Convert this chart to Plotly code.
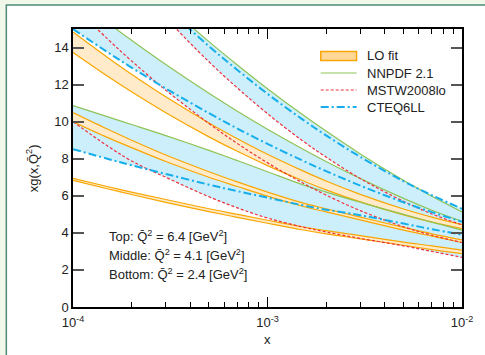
import plotly.graph_objects as go

# ---------------- data ----------------
x = [1e-4, 1.5e-4, 2e-4, 3e-4, 5e-4, 7e-4, 1e-3, 1.5e-3, 2e-3, 3e-3, 5e-3, 7e-3, 1e-2]

# LO fit bands (upper / lower edge) for the three Q^2 values
lo_top_up = [14.84, 13.48, 12.56, 11.34, 9.93, 9.08, 8.24, 7.37, 6.80, 6.08, 5.29, 4.85, 4.44]
lo_top_lo = [13.73, 12.46, 11.61, 10.48, 9.18, 8.40, 7.63, 6.84, 6.32, 5.67, 4.97, 4.58, 4.23]
lo_mid_up = [10.49, 9.6, 9.0, 8.2, 7.3, 6.75, 6.2, 5.63, 5.3, 4.85, 4.3, 3.95, 3.62]
lo_mid_lo = [9.99, 9.15, 8.6, 7.85, 7.0, 6.5, 5.98, 5.45, 5.13, 4.7, 4.15, 3.82, 3.48]
lo_bot_up = [6.94, 6.5, 6.2, 5.8, 5.3, 5.0, 4.68, 4.33, 4.12, 3.85, 3.5, 3.3, 3.07]
lo_bot_lo = [6.83, 6.38, 6.07, 5.65, 5.15, 4.84, 4.52, 4.17, 3.95, 3.68, 3.33, 3.1, 2.88]

# NNPDF 2.1
nn_top = [21.18, 19.33, 18.06, 16.35, 14.32, 13.06, 11.78, 10.41, 9.49, 8.26, 6.84, 5.98, 5.13]
nn_mid = [16.79, 15.36, 14.39, 13.08, 11.53, 10.56, 9.59, 8.55, 7.85, 6.93, 5.86, 5.22, 4.62]
nn_bot = [10.87, 10.27, 9.85, 9.25, 8.45, 7.9, 7.3, 6.62, 6.2, 5.65, 5.0, 4.58, 4.15]

# MSTW2008lo
ms_top = [21.53, 19.21, 17.65, 15.60, 13.23, 11.82, 10.43, 9.00, 8.09, 6.93, 5.70, 5.02, 4.43]
ms_mid = [16.28, 14.48, 13.28, 11.70, 9.90, 8.82, 7.78, 6.72, 6.04, 5.20, 4.33, 3.87, 3.48]
ms_bot = [10.0, 8.7, 7.88, 7.0, 5.95, 5.35, 4.8, 4.33, 4.05, 3.7, 3.3, 3.0, 2.68]

# CTEQ6LL
ct_top = [21.30, 19.32, 17.97, 16.18, 14.07, 12.79, 11.50, 10.15, 9.26, 8.10, 6.79, 6.03, 5.30]
ct_mid = [15.0, 13.76, 12.92, 11.79, 10.46, 9.63, 8.8, 7.92, 7.33, 6.55, 5.65, 5.12, 4.6]
ct_bot = [8.52, 8.0, 7.65, 7.18, 6.6, 6.25, 5.9, 5.5, 5.25, 4.95, 4.5, 4.2, 3.9]

legend_names = ["LO fit", "NNPDF 2.1", "MSTW2008lo", "CTEQ6LL"]

ORANGE = "#f9a602"
PEACH = "#ffebc9"
LEGFILL = "#ffd898"
GREEN = "#8fc356"
RED = "#f0303c"
BLUE = "#16aeea"
LBLUE = "#cdeffc"
FONT = "Liberation Sans, Arial, sans-serif"
TXT = "#222222"
RED_DASH = "3px,2px"
BLUE_DASH = "8px,3px,2px,3px"

fig = go.Figure()

# light-blue spread of the three global fits at each Q^2 (union of pairwise bands)
groups = [(nn_top, ms_top, ct_top), (nn_mid, ms_mid, ct_mid), (nn_bot, ms_bot, ct_bot)]
for nn, ms, ct in groups:
    for a, b in [(nn, ct), (nn, ms), (ct, ms)]:
        fig.add_trace(go.Scatter(x=x, y=a, mode="lines", line=dict(width=0, shape="spline"),
                                 showlegend=False, hoverinfo="skip"))
        fig.add_trace(go.Scatter(x=x, y=b, mode="lines", line=dict(width=0, shape="spline"),
                                 fill="tonexty", fillcolor=LBLUE, showlegend=False, hoverinfo="skip"))

# LO fit bands
for up, lo in [(lo_top_up, lo_top_lo), (lo_mid_up, lo_mid_lo), (lo_bot_up, lo_bot_lo)]:
    fig.add_trace(go.Scatter(x=x, y=up, mode="lines", line=dict(color=ORANGE, width=1.2, shape="spline"),
                             showlegend=False))
    fig.add_trace(go.Scatter(x=x, y=lo, mode="lines", line=dict(color=ORANGE, width=1.2, shape="spline"),
                             fill="tonexty", fillcolor=PEACH, name=legend_names[0], showlegend=False))

def add_lines(series, name, color, dash, width):
    for s in series:
        fig.add_trace(go.Scatter(x=x, y=s, mode="lines", name=name, showlegend=False,
                                 line=dict(color=color, dash=dash, width=width, shape="spline")))

add_lines([nn_top, nn_mid, nn_bot], legend_names[1], GREEN, "solid", 1.2)
add_lines([ms_top, ms_mid, ms_bot], legend_names[2], RED, RED_DASH, 1.2)
add_lines([ct_top, ct_mid, ct_bot], legend_names[3], BLUE, BLUE_DASH, 2)

# panel frame
fig.add_shape(type="rect", xref="paper", yref="paper", x0=-0.1714, x1=1.3, y0=-0.4, y1=1.0863,
              line=dict(color="#4b8b77", width=1.5), fillcolor="white", layer="below")

# legend (drawn by hand for exact spacing)
def px2x(p):
    return (p - 73) / 391.0

def py2y(p):
    return (307 - p) / 278.0

rows = [56, 73, 90, 107]
sx0, sx1, tx = px2x(322), px2x(358), px2x(367)
fig.add_shape(type="rect", xref="paper", yref="paper", x0=sx0, x1=sx1,
              y0=py2y(rows[0] + 4.5), y1=py2y(rows[0] - 4.5),
              line=dict(color=ORANGE, width=1.5), fillcolor=LEGFILL)
for (color, dash, width), r in zip([(GREEN, "solid", 1.2), (RED, RED_DASH, 1.2), (BLUE, BLUE_DASH, 2)], rows[1:]):
    fig.add_shape(type="line", xref="paper", yref="paper", x0=sx0, x1=sx1, y0=py2y(r), y1=py2y(r),
                  line=dict(color=color, dash=dash, width=width))
for name, r in zip(legend_names, rows):
    fig.add_annotation(text=name, xref="paper", yref="paper", x=tx, y=py2y(r),
                       xanchor="left", yanchor="middle", showarrow=False,
                       font=dict(size=13, color=TXT, family=FONT))

fig.update_xaxes(type="log", range=[-4, -2], showgrid=False, zeroline=False,
                 showline=True, linecolor="black", linewidth=1.5, mirror="allticks",
                 ticks="inside", ticklen=10, tickcolor="black", ticklabelstandoff=3,
                 tickvals=[1e-4, 1e-3, 1e-2],
                 ticktext=["10<sup>-4</sup>", "10<sup>-3</sup>", "10<sup>-2</sup>"],
                 minor=dict(tickmode="array",
                            tickvals=[2e-4, 3e-4, 4e-4, 5e-4, 6e-4, 7e-4, 8e-4, 9e-4,
                                      2e-3, 3e-3, 4e-3, 5e-3, 6e-3, 7e-3, 8e-3, 9e-3],
                            ticks="inside", ticklen=5, tickcolor="black", showgrid=False),
                 tickfont=dict(size=13, color=TXT))
fig.update_yaxes(range=[0, 15], showgrid=False, zeroline=False,
                 showline=True, linecolor="black", linewidth=1.5, mirror="allticks",
                 ticks="inside", ticklen=11, tickwidth=1.5, tickcolor="#555",
                 tickvals=[0, 2, 4, 6, 8, 10, 12, 14],
                 tickfont=dict(size=13, color=TXT))

# axis titles as annotations
fig.add_annotation(text="x", xref="paper", yref="paper", x=0.5, y=-0.118,
                   xanchor="center", yanchor="middle", showarrow=False,
                   font=dict(size=13, color=TXT, family=FONT))
fig.add_annotation(text="xg(x,Q\u0304<sup>2</sup>)", xref="paper", yref="paper",
                   x=px2x(32), y=0.5, textangle=-90,
                   xanchor="center", yanchor="middle", showarrow=False,
                   font=dict(size=13, color=TXT, family=FONT))

for txt, yy in [("Top: Q\u0304<sup>2</sup> = 6.4 [GeV<sup>2</sup>]", 0.255),
                ("Middle: Q\u0304<sup>2</sup> = 4.1 [GeV<sup>2</sup>]", 0.187),
                ("Bottom: Q\u0304<sup>2</sup> = 2.4 [GeV<sup>2</sup>]", 0.119)]:
    fig.add_annotation(text=txt, xref="paper", yref="paper", x=0.087, y=yy,
                       xanchor="left", yanchor="middle", showarrow=False,
                       font=dict(size=13, color=TXT, family=FONT))

fig.update_layout(
    width=485, height=355,
    margin=dict(l=73, r=21, t=29, b=48),
    paper_bgcolor="#f1f8ea", plot_bgcolor="white",
    font=dict(family=FONT, size=13, color=TXT),
    showlegend=False,
)

fig.write_html("out.html")
